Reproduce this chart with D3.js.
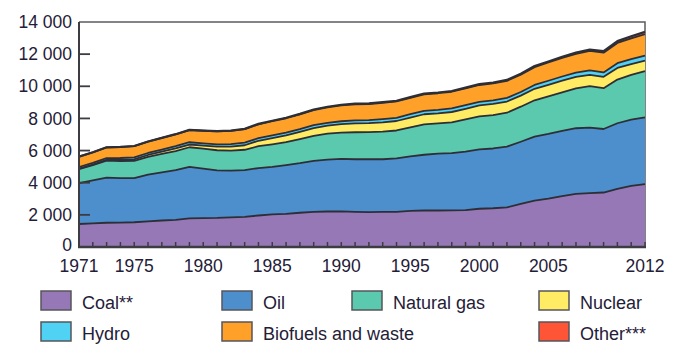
<!DOCTYPE html>
<html>
<head>
<meta charset="utf-8">
<script src="https://cdn.jsdelivr.net/npm/d3@7"></script>
<style>
	body { margin: 0; background: #fff; }
	.tick-text { font-family: 'Liberation Sans Narrow', 'Liberation Sans', sans-serif; font-size: 17.5px; fill: #1f2038; }
	.legend-text { font-family: 'Liberation Sans', sans-serif; font-size: 18px; fill: #1f2038; }
</style>
</head>
<body>
<div id="chart"></div>
<script>
// World total primary energy supply by fuel (Mtoe), 1971-2012
const years = d3.range(1971, 2013);

const coal = [1430, 1470, 1510, 1520, 1540, 1600, 1650, 1690, 1780, 1800,
	1810, 1840, 1880, 1960, 2030, 2060, 2130, 2180, 2210, 2220,
	2190, 2170, 2180, 2190, 2250, 2270, 2270, 2280, 2300, 2380,
	2410, 2460, 2690, 2880, 3010, 3170, 3300, 3350, 3390, 3620,
	3800, 3910];
const oil = [2545, 2680, 2810, 2770, 2743, 2900, 3000, 3100, 3205, 3080,
	2960, 2915, 2900, 2950, 2960, 3040, 3090, 3180, 3230, 3261,
	3270, 3290, 3280, 3330, 3394, 3470, 3540, 3560, 3640, 3700,
	3720, 3785, 3860, 3990, 4030, 4060, 4090, 4074, 3953, 4080,
	4120, 4160];
const gas = [869, 940, 1050, 1060, 1075, 1110, 1140, 1180, 1222, 1240,
	1250, 1241, 1270, 1360, 1400, 1420, 1490, 1550, 1610, 1633,
	1680, 1690, 1720, 1730, 1800, 1890, 1880, 1920, 2000, 2050,
	2080, 2110, 2180, 2260, 2330, 2390, 2480, 2580, 2540, 2720,
	2790, 2880];
const nuclear = [29, 38, 53, 69, 100, 115, 140, 165, 170, 186,
	220, 250, 280, 340, 390, 420, 450, 490, 500, 526,
	550, 555, 580, 590, 608, 630, 625, 640, 660, 676,
	690, 696, 687, 714, 722, 728, 709, 712, 703, 719,
	674, 642];
const hydro = [104, 107, 110, 120, 123, 124, 128, 136, 142, 147,
	150, 155, 161, 165, 168, 171, 172, 177, 177, 184,
	189, 189, 198, 200, 210, 214, 218, 220, 222, 225,
	220, 224, 225, 240, 252, 261, 264, 276, 278, 296,
	300, 316];
const biofuels = [640, 655, 665, 680, 695, 710, 725, 740, 760, 780,
	800, 820, 840, 860, 880, 900, 920, 945, 965, 990,
	1000, 1005, 1010, 1015, 1020, 1030, 1035, 1040, 1045, 1050,
	1055, 1065, 1085, 1110, 1135, 1160, 1180, 1205, 1225, 1265,
	1300, 1330];
const other = [6, 6, 6, 6, 7, 7, 8, 9, 10, 12,
	14, 17, 20, 24, 28, 30, 32, 34, 35, 37,
	38, 40, 41, 42, 43, 45, 47, 48, 50, 52,
	54, 57, 59, 63, 67, 72, 78, 88, 96, 110,
	126, 147];

const keys = ['coal', 'oil', 'gas', 'nuclear', 'hydro', 'biofuels', 'other'];
const labels = ['Coal**', 'Oil', 'Natural gas', 'Nuclear', 'Hydro', 'Biofuels and waste', 'Other***'];
const colors = ['#9678b7', '#4d8ecc', '#5bc9ad', '#ffeb64', '#50d2f5', '#ffa028', '#ff5537'];

const xTicks = [1971, 1975, 1980, 1985, 1990, 1995, 2000, 2005, 2012];
const yTicks = [0, 2000, 4000, 6000, 8000, 10000, 12000, 14000];

// build table rows for the stack
const series = { coal, oil, gas, nuclear, hydro, biofuels, other };
const table = years.map((yr, i) => {
	const row = { year: yr };
	keys.forEach((k) => (row[k] = series[k][i]));
	return row;
});

const W = 697, H = 360;
const plotLeft = 79, plotRight = 645, plotTop = 22, plotBottom = 247;

const svg = d3.select('#chart').append('svg').attr('width', W).attr('height', H);

const x = d3.scaleLinear().domain([1971, 2012]).range([plotLeft, plotRight]);
const y = d3.scaleLinear().domain([0, 14000]).range([plotBottom, plotTop]);
const color = d3.scaleOrdinal().domain(keys).range(colors);

const stacked = d3.stack().keys(keys)(table);

const area = d3.area()
	.x((d) => x(d.data.year))
	.y0((d) => y(d[0]))
	.y1((d) => y(d[1]));

const edge = d3.line()
	.x((d) => x(d.data.year))
	.y((d) => y(d[1]));

// plot frame (top + right)
svg.append('path')
	.attr('d', `M${plotLeft},${plotTop}H${plotRight}V${plotBottom}`)
	.attr('fill', 'none')
	.attr('stroke', '#5a5a60')
	.attr('stroke-width', 1.5);

// stacked areas
svg.append('g')
	.selectAll('path')
	.data(stacked)
	.enter()
	.append('path')
	.attr('d', area)
	.attr('fill', (d) => color(d.key));

// dark edges on top of each layer
svg.append('g')
	.selectAll('path')
	.data(stacked.filter((d) => d.key !== 'other'))
	.enter()
	.append('path')
	.attr('d', edge)
	.attr('fill', 'none')
	.attr('stroke', '#2e2e36')
	.attr('stroke-width', 1.8)
	.attr('stroke-linejoin', 'round');

// total outline
svg.append('path')
	.datum(stacked[stacked.length - 1])
	.attr('d', edge)
	.attr('fill', 'none')
	.attr('stroke', '#2e2e36')
	.attr('stroke-width', 2.2)
	.attr('stroke-linejoin', 'round');

// y axis: line, inner ticks, labels
svg.append('line')
	.attr('x1', plotLeft).attr('x2', plotLeft)
	.attr('y1', plotTop).attr('y2', plotBottom)
	.attr('stroke', '#3c3c42')
	.attr('stroke-width', 2);

svg.append('g')
	.selectAll('line')
	.data(yTicks.filter((v) => v > 0 && v < 14000))
	.enter()
	.append('line')
	.attr('x1', plotLeft).attr('x2', plotLeft + 11)
	.attr('y1', (d) => y(d)).attr('y2', (d) => y(d))
	.attr('stroke', '#3c3c42')
	.attr('stroke-width', 1.8);

const fmt = (v) => d3.format(',')(v).replace(/,/g, ' ');

svg.append('g')
	.selectAll('text')
	.data(yTicks)
	.enter()
	.append('text')
	.attr('class', 'tick-text')
	.attr('x', 72)
	.attr('y', (d) => y(d))
	.attr('dy', (d) => (d === 0 ? '0.2em' : '0.35em'))
	.attr('text-anchor', 'end')
	.text((d) => fmt(d));

// x axis: line, year ticks, labels
svg.append('g')
	.selectAll('line')
	.data(years.slice(1))
	.enter()
	.append('line')
	.attr('x1', (d) => x(d)).attr('x2', (d) => x(d))
	.attr('y1', plotBottom).attr('y2', plotBottom - 5)
	.attr('stroke', '#3c3c42')
	.attr('stroke-width', 1.5);

svg.append('line')
	.attr('x1', plotLeft - 1).attr('x2', plotRight + 1)
	.attr('y1', plotBottom).attr('y2', plotBottom)
	.attr('stroke', '#3c3c42')
	.attr('stroke-width', 2.5);

svg.append('g')
	.selectAll('text')
	.data(xTicks)
	.enter()
	.append('text')
	.attr('class', 'tick-text')
	.attr('x', (d) => x(d))
	.attr('y', 272)
	.attr('text-anchor', 'middle')
	.text((d) => d);

// legend
const legendPos = [
	[41, 291], [222, 291], [352, 291], [539, 291],
	[41, 322], [222, 322], [539, 322]
];

const legend = svg.append('g')
	.selectAll('g')
	.data(keys)
	.enter()
	.append('g')
	.attr('transform', (d, i) => `translate(${legendPos[i][0]},${legendPos[i][1]})`);

legend.append('rect')
	.attr('width', 30)
	.attr('height', 19)
	.attr('fill', (d) => color(d))
	.attr('stroke', '#55555c')
	.attr('stroke-width', 1.5);

legend.append('text')
	.attr('class', 'legend-text')
	.attr('x', 41)
	.attr('y', 18)
	.text((d, i) => labels[i]);
</script>
</body>
</html>
